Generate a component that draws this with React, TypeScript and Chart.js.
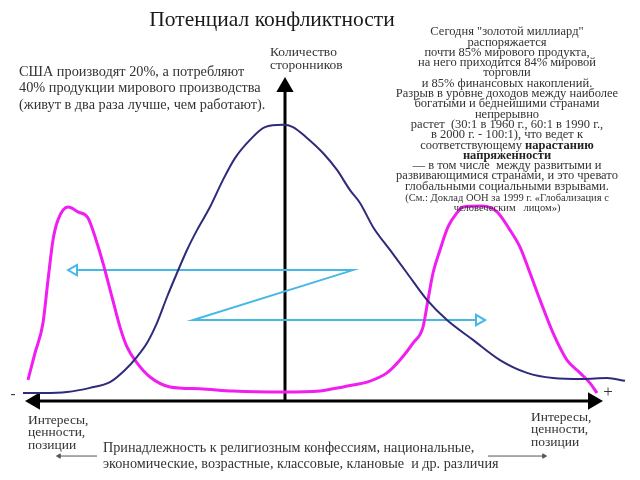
import React, { useEffect, useRef } from "react";
import { Chart, registerables } from "chart.js";

Chart.register(...registerables);

// Horizontal position along the axis ("-" ... "+"), vertical = number of supporters (0..100)
const magentaX = [-25.7, -25.0, -24.2, -23.7, -23.2, -22.7, -21.7, -20.7, -19.7, -18.8, -18.2, -17.3, -16.5, -15.8, -14.8, -13.5, -11.5, -8.5, -5.2, -0.2, 3.5, 4.8, 6.8, 8.2, 10.2, 11.5, 12.8, 13.8, 14.3, 14.8, 15.5, 16.3, 17.2, 17.8, 19.7, 21.2, 22.5, 23.5, 24.5, 25.5, 26.8, 28.2, 29.5, 30.5, 31.2];
const magentaY = [6.6, 15.0, 24.4, 37.8, 50.3, 56.6, 60.6, 59.1, 57.2, 49.4, 43.1, 32.5, 23.1, 16.9, 11.9, 7.5, 4.4, 3.8, 3.1, 2.8, 3.1, 3.8, 5.0, 5.9, 8.8, 12.8, 18.1, 23.1, 31.6, 40.0, 47.2, 54.4, 58.8, 60.6, 60.9, 59.1, 53.4, 48.1, 40.0, 31.6, 21.3, 12.8, 8.8, 5.6, 2.5];

const blueX = [-26.2, -24.2, -21.8, -19.5, -17.5, -16.0, -14.8, -13.8, -12.8, -11.8, -10.8, -9.8, -8.8, -7.5, -6.2, -5.0, -3.5, -2.0, -0.2, 0.8, 2.2, 3.8, 5.2, 6.5, 7.5, 8.8, 10.5, 12.2, 14.2, 16.2, 18.8, 21.5, 24.2, 26.8, 29.8, 32.2, 34.0];
const blueY = [2.5, 2.5, 2.8, 4.1, 5.9, 9.7, 13.8, 18.1, 24.4, 32.5, 40.0, 47.2, 53.4, 60.6, 69.1, 75.9, 81.6, 85.6, 86.3, 85.6, 82.2, 77.5, 72.2, 65.9, 61.9, 54.4, 47.2, 40.0, 31.6, 25.3, 19.1, 12.8, 8.8, 7.2, 6.9, 7.2, 6.3];

const zigzagX = [-21.1, 6.8, -9.2, 19.4];
const zigzagY = [40.9, 40.9, 25.3, 25.3];

const hAxisX = [-25.0, 30.8];
const hAxisY = [0, 0];
const vAxisX = [0, 0];
const vAxisY = [0, 98.1];

const leftArrowX = [-18.8, -22.6];
const rightArrowX = [20.3, 25.9];
const smallArrowY = [-17.2, -17.2];

const titleText = "Потенциал конфликтности";
const yAxisLabel = ["Количество", "сторонников"];
const usaText = [
  "США производят 20%, а потребляют",
  "40% продукции мирового производства",
  "(живут в два раза лучше, чем работают).",
];
const unText = [
  "Сегодня \"золотой миллиард\"",
  "распоряжается",
  "почти 85% мирового продукта,",
  "на него приходится 84% мировой",
  "торговли",
  "и 85% финансовых накоплений.",
  "Разрыв в уровне доходов между наиболее",
  "богатыми и беднейшими странами",
  "непрерывно",
  "растет  (30:1 в 1960 г., 60:1 в 1990 г.,",
  "в 2000 г. - 100:1), что ведет к",
];
const unBold1 = ["соответствующему ", "нарастанию"];
const unBold2 = "напряженности";
const unText2 = [
  "— в том числе  между развитыми и",
  "развивающимися странами, и это чревато",
  "глобальными социальными взрывами.",
];
const unSource = ["(См.: Доклад ООН за 1999 г. «Глобализация с", "человеческим   лицом»)"];
const endLabel = ["Интересы,", "ценности,", "позиции"];
const bottomText = [
  "Принадлежность к религиозным конфессиям, национальные,",
  "экономические, возрастные, классовые, клановые  и др. различия",
];

const pts = (xs: number[], ys: number[]) => xs.map((x, i) => ({ x, y: ys[i] }));

const SERIF = "'Liberation Serif', 'DejaVu Serif', serif";

const textPlugin = {
  id: "texts",
  afterDraw(chart: any) {
    const ctx: CanvasRenderingContext2D = chart.ctx;
    ctx.save();
    ctx.textBaseline = "middle";
    const draw = (t: string, x: number, y: number, size: number, color = "#333", align: CanvasTextAlign = "left", weight = "normal") => {
      ctx.font = `${weight} ${size}px ${SERIF}`;
      ctx.fillStyle = color;
      ctx.textAlign = align;
      ctx.fillText(t, x, y);
    };
    draw(titleText, 272, 20, 21.5, "#1a1a1a", "center");
    draw(yAxisLabel[0], 270, 52, 13.5, "#333");
    draw(yAxisLabel[1], 270, 65, 13.5, "#333");
    usaText.forEach((t, i) => draw(t, 19, 72 + i * 16.7, 14.3, "#333"));
    const cx = 507;
    const fs = 12.5;
    unText.forEach((t, i) => draw(t, cx, 32 + i * 10.3, fs, "#333", "center"));
    ctx.font = `normal ${fs}px ${SERIF}`;
    const w1 = ctx.measureText(unBold1[0]).width;
    ctx.font = `bold ${fs}px ${SERIF}`;
    const w2 = ctx.measureText(unBold1[1]).width;
    const sx = cx - (w1 + w2) / 2;
    draw(unBold1[0], sx, 32 + 11 * 10.3, fs, "#333");
    draw(unBold1[1], sx + w1, 32 + 11 * 10.3, fs, "#222", "left", "bold");
    draw(unBold2, cx, 32 + 12 * 10.3, fs, "#222", "center", "bold");
    unText2.forEach((t, i) => draw(t, cx, 32 + (13 + i) * 10.3, fs, "#333", "center"));
    unSource.forEach((t, i) => draw(t, cx, 198 + i * 10, 10.5, "#333", "center"));
    draw("-", 13, 394, 15, "#333", "center");
    draw("+", 608, 393, 17, "#333", "center");
    endLabel.forEach((t, i) => draw(t, 28, 420 + i * 12.5, 13.5, "#333"));
    endLabel.forEach((t, i) => draw(t, 531, 417 + i * 12.5, 13.5, "#333"));
    bottomText.forEach((t, i) => draw(t, 103, 448 + i * 16.5, 14.2, "#333"));
    ctx.restore();
  },
};

export default function App() {
  const ref = useRef<HTMLCanvasElement>(null);
  useEffect(() => {
    document.body.style.margin = "0";
    const canvas = ref.current!;
    const lastOnly = (r: number) => (c: any) => (c.dataIndex === c.dataset.data.length - 1 ? r : 0);
    const endsOnly = (r: number) => (c: any) => (c.dataIndex === 0 || c.dataIndex === c.dataset.data.length - 1 ? r : 0);
    const chart = new Chart(canvas, {
      type: "scatter",
      data: {
        datasets: [
          {
            data: pts(blueX, blueY),
            showLine: true,
            borderColor: "#2e2a7c",
            borderWidth: 2,
            pointRadius: 0,
            cubicInterpolationMode: "monotone",
            clip: false as any,
          },
          {
            data: pts(magentaX, magentaY),
            showLine: true,
            borderColor: "#f01ef0",
            borderWidth: 3,
            pointRadius: 0,
            cubicInterpolationMode: "monotone",
            clip: false as any,
          },
          {
            data: pts(zigzagX, zigzagY),
            showLine: true,
            borderColor: "#45b8e6",
            borderWidth: 2,
            tension: 0,
            pointRadius: endsOnly(6),
            pointStyle: "triangle",
            pointRotation: (c: any) => (c.dataIndex === 0 ? -90 : 90),
            pointBackgroundColor: "#ffffff",
            pointBorderColor: "#45b8e6",
            pointBorderWidth: 2,
            clip: false as any,
          },
          {
            data: pts(hAxisX, hAxisY),
            showLine: true,
            borderColor: "#000",
            borderWidth: 3,
            pointRadius: 7,
            pointStyle: "triangle",
            pointRotation: (c: any) => (c.dataIndex === 0 ? -90 : 90),
            pointBackgroundColor: "#000",
            pointBorderColor: "#000",
            clip: false as any,
          },
          {
            data: pts(vAxisX, vAxisY),
            showLine: true,
            borderColor: "#000",
            borderWidth: 3,
            pointRadius: lastOnly(7),
            pointStyle: "triangle",
            pointRotation: 0,
            pointBackgroundColor: "#000",
            pointBorderColor: "#000",
            clip: false as any,
          },
          {
            data: pts(leftArrowX, smallArrowY),
            showLine: true,
            borderColor: "#555",
            borderWidth: 1,
            pointRadius: lastOnly(2.5),
            pointStyle: "triangle",
            pointRotation: -90,
            pointBackgroundColor: "#555",
            pointBorderColor: "#555",
            clip: false as any,
          },
          {
            data: pts(rightArrowX, smallArrowY),
            showLine: true,
            borderColor: "#555",
            borderWidth: 1,
            pointRadius: lastOnly(2.5),
            pointStyle: "triangle",
            pointRotation: 90,
            pointBackgroundColor: "#555",
            pointBorderColor: "#555",
            clip: false as any,
          },
        ],
      },
      options: {
        animation: false,
        responsive: false,
        layout: { padding: { left: 20, right: 10, top: 81, bottom: 15 } },
        scales: {
          x: { type: "linear", min: -26.5, max: 34.5, display: false },
          y: { type: "linear", min: -20, max: 100, display: false },
        },
        plugins: { legend: { display: false }, tooltip: { enabled: false }, title: { display: false } },
        events: [],
      },
      plugins: [textPlugin],
    });
    return () => chart.destroy();
  }, []);
  return (
    <div style={{ width: 640, height: 480, background: "#fff" }}>
      <canvas ref={ref} width={640} height={480} style={{ display: "block" }} />
    </div>
  );
}
